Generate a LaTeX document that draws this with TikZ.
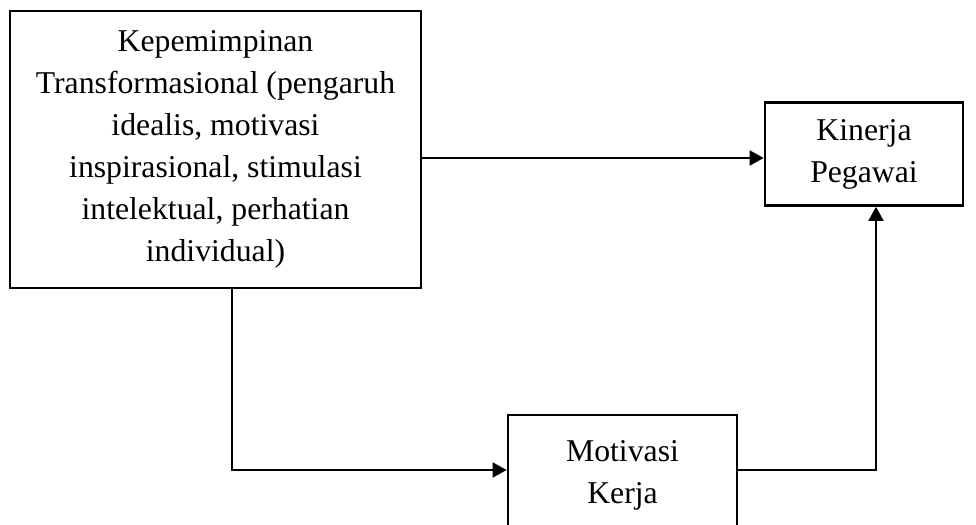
\documentclass[tikz,border=0pt]{standalone}
\usepackage{fontspec}
\setmainfont{Liberation Serif}
\usetikzlibrary{arrows.meta}
\begin{document}
\begin{tikzpicture}[x=0.75pt,y=-0.75pt,
  box/.style={draw,line width=1.9pt,rectangle,inner sep=0pt,align=center,
    font=\fontsize{23.8pt}{31.5pt}\selectfont},
  conn/.style={line width=1.9pt,line join=miter},
  arr/.style={conn,-{Triangle[length=10.5pt,width=11pt]}}]
\useasboundingbox (0,0) rectangle (976,525);
\clip (0,0) rectangle (976,525);
\node[box,minimum width=308.25pt,minimum height=207.75pt] (b1) at (215.5,149.5)
  {Kepemimpinan\\Transformasional (pengaruh\\idealis, motivasi\\inspirasional, stimulasi\\intelektual, perhatian\\individual)};
\node[box,minimum width=148.5pt,minimum height=77.25pt] (b2) at (864,154)
  {Kinerja\\Pegawai};
\node[box,minimum width=171.75pt,minimum height=90pt] (b3) at (622.5,475)
  {Motivasi\\Kerja};
\draw[arr] (b1.east |- 0,158) -- (b2.west |- 0,158);
\draw[arr] (b1.south -| 232,0) -- (232,470) -- (b3.west |- 0,470);
\draw[arr] (b3.east |- 0,470) -- (876,470) -- (b2.south -| 876,0);
\end{tikzpicture}
\end{document}
